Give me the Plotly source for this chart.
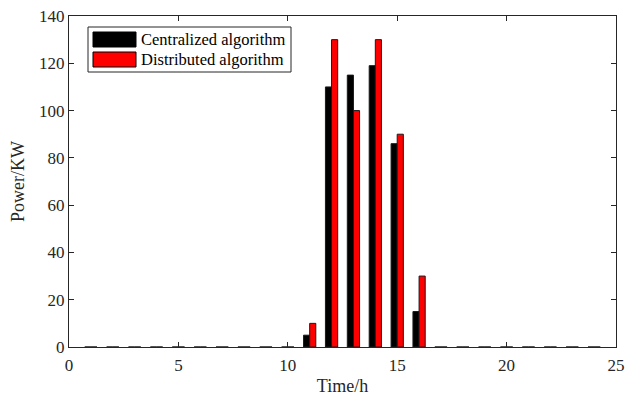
import plotly.graph_objects as go

hours = list(range(1, 25))
centralized = [0]*10 + [5, 110, 115, 119, 86, 15] + [0]*8
distributed = [0]*10 + [10, 130, 100, 130, 90, 30] + [0]*8
names = ["Centralized algorithm", "Distributed algorithm"]
colors = ["#000000", "#ff0000"]

W, H = 627, 400
L, R, T, B = 69, 616, 16, 347

fig = go.Figure()
for vals, nm, c in zip([centralized, distributed], names, colors):
    fig.add_trace(go.Bar(x=hours, y=vals, name=nm, marker=dict(color=c, line=dict(color="#1a1a1a", width=1)),
                         showlegend=False))

def px_x(p):
    return (p - L) / (R - L)
def px_y(p):
    return (B - p) / (B - T)

shapes = []
annotations = []
# legend box
shapes.append(dict(type="rect", xref="paper", yref="paper", x0=px_x(88), x1=px_x(291), y0=px_y(72), y1=px_y(27),
                   line=dict(color="#262626", width=1), fillcolor="white", layer="above"))
for i, (nm, c) in enumerate(zip(names, colors)):
    y0, y1 = [(32, 47), (52, 67)][i]
    shapes.append(dict(type="rect", xref="paper", yref="paper", x0=px_x(93), x1=px_x(136), y0=px_y(y1), y1=px_y(y0),
                       line=dict(color="#000000", width=1), fillcolor=c, layer="above"))
    annotations.append(dict(text=nm, xref="paper", yref="paper", x=px_x(139), y=px_y((y0 + y1) / 2),
                            xanchor="left", yanchor="middle", showarrow=False,
                            font=dict(family="Liberation Serif", size=16.5, color="#000000")))

axis_common = dict(showline=True, linecolor="#262626", linewidth=1, mirror="ticks", ticks="inside",
                   ticklen=5, tickcolor="#262626", showgrid=False, zeroline=False, automargin=False,
                   tickfont=dict(family="Liberation Serif", size=17, color="#262626"))

fig.update_layout(
    width=W, height=H, margin=dict(l=L, r=W - R, t=T, b=H - B),
    paper_bgcolor="white", plot_bgcolor="white",
    barmode="group", bargap=0.44, bargroupgap=0,
    shapes=shapes, annotations=annotations,
    xaxis=dict(range=[0, 25], tickvals=[0, 5, 10, 15, 20, 25], ticklabelstandoff=3,
               title=dict(text="Time/h", standoff=4,
               font=dict(family="Liberation Serif", size=18, color="#262626")), **axis_common),
    yaxis=dict(range=[0, 140], tickvals=list(range(0, 141, 20)), title=dict(text="Power/KW", standoff=9,
               font=dict(family="Liberation Serif", size=18, color="#262626")), **axis_common),
)

fig.write_html("out.html")
